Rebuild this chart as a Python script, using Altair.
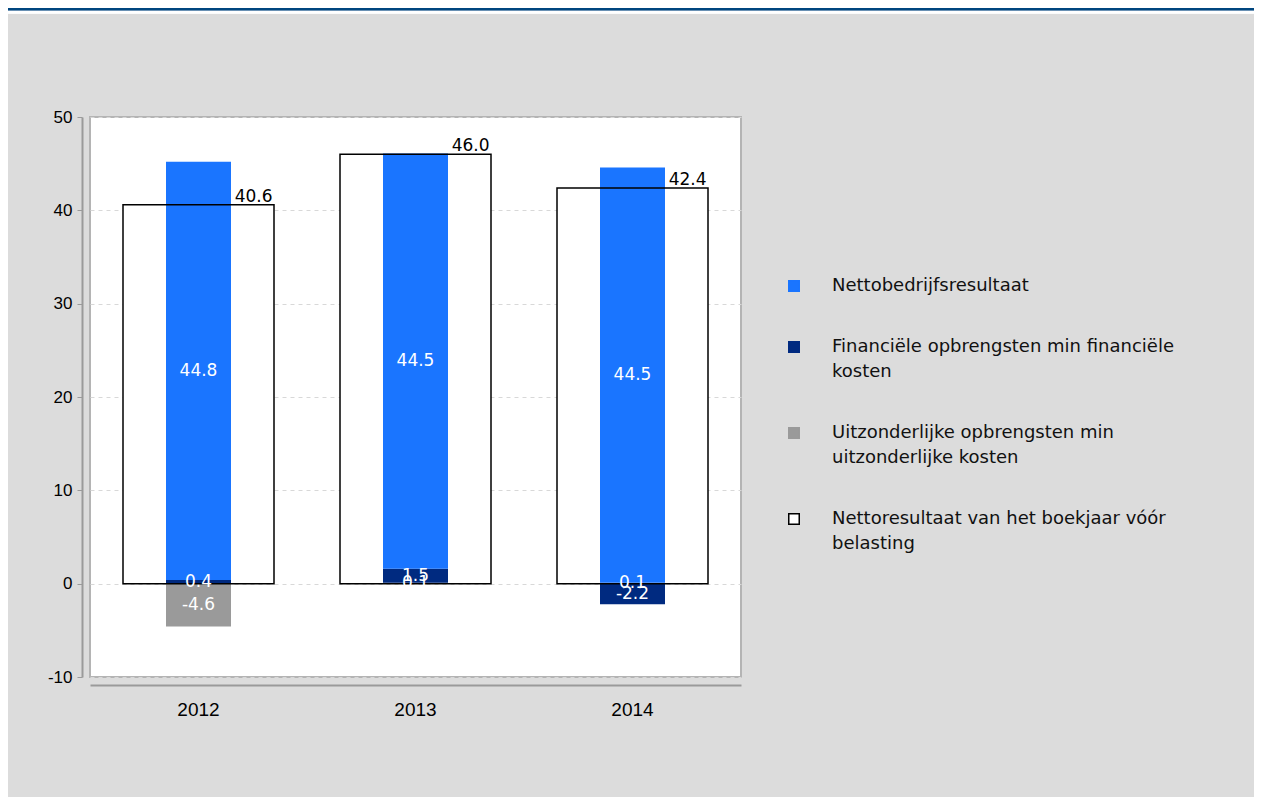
import altair as alt
import pandas as pd

years = ["2012", "2013", "2014"]
series = [
    "Nettobedrijfsresultaat",
    "Financiële opbrengsten min financiële kosten",
    "Uitzonderlijke opbrengsten min uitzonderlijke kosten",
    "Nettoresultaat van het boekjaar vóór belasting",
]
netto_bedrijf = [44.8, 44.5, 44.5]
financieel = [0.4, 1.5, -2.2]
uitzonderlijk = [-4.6, 0.1, 0.1]
netto_resultaat = [40.6, 46.0, 42.4]
fill_colors = ["#1a75ff", "#002a80", "#9a9a9a", "#ffffff"]
stroke_colors = ["#1a75ff", "#002a80", "#9a9a9a", "#000000"]

rows = []
for i, y in enumerate(years):
    rows.append({"year": y, "series": series[2], "value": uitzonderlijk[i], "order": 0})
    rows.append({"year": y, "series": series[1], "value": financieel[i], "order": 1})
    rows.append({"year": y, "series": series[0], "value": netto_bedrijf[i], "order": 2})
seg = pd.DataFrame(rows)
tot = pd.DataFrame({"year": years, "series": series[3], "value": netto_resultaat})

label_expr = ("datum.label == '%s' ? ['Financiële opbrengsten min financiële', 'kosten'] : "
              "datum.label == '%s' ? ['Uitzonderlijke opbrengsten min', 'uitzonderlijke kosten'] : "
              "datum.label == '%s' ? ['Nettoresultaat van het boekjaar vóór', 'belasting'] : datum.label"
              ) % (series[1], series[2], series[3])

color_scale = alt.Scale(domain=series, range=fill_colors)
stroke_scale = alt.Scale(domain=series, range=stroke_colors)
legend = alt.Legend(
    title=None, orient="none", legendX=695, legendY=160,
    symbolType="square", symbolSize=110, symbolStrokeWidth=1.5,
    labelFont="DejaVu Sans", labelFontSize=18, labelColor="#111111",
    labelOffset=29, labelLimit=500, rowPadding=43,
    labelExpr=label_expr,
)

x_enc = alt.X("year:N", sort=years, title=None,
              scale=alt.Scale(paddingInner=0, paddingOuter=0),
              axis=alt.Axis(labelAngle=0, ticks=False, labelPadding=15, offset=8,
                            domainColor="#9a9a9a", domainWidth=2,
                            labelFont="Liberation Sans", labelFontSize=19, labelColor="#000000"))
y_scale = alt.Scale(domain=[-10, 50], nice=False)
y_axis = alt.Axis(values=[-10, 0, 10, 20, 30, 40, 50], offset=8, title=None,
                  labelExpr="datum.value < 0 ? '-' + abs(datum.value) : datum.label",
                  domainColor="#9a9a9a", domainWidth=2, tickColor="#9a9a9a", tickSize=5,
                  labelPadding=5, labelFont="Liberation Sans", labelFontSize=17, labelColor="#000000",
                  grid=True, gridColor="#d8d8d8", gridDash=[4, 4], gridWidth=1)

base_tot = alt.Chart(tot).transform_calculate(
    lbl="replace(format(datum.value, '.1f'), '\u2212', '-')")
outline_fill = base_tot.mark_bar(size=151, strokeWidth=0).encode(
    x=x_enc,
    y=alt.Y("value:Q", scale=y_scale, axis=y_axis),
    color=alt.Color("series:N", scale=color_scale, legend=legend),
    stroke=alt.Stroke("series:N", scale=stroke_scale, legend=legend),
)

stack = alt.Chart(seg).transform_stack(
    stack="value", groupby=["year"], as_=["y0", "y1"],
    sort=[alt.SortField("order", order="ascending")], offset="zero"
).transform_calculate(
    mid="(datum.y0 + datum.y1) / 2",
    lbl="replace(format(datum.value, '.1f'), '\u2212', '-')",
)

bars = stack.mark_bar(size=65, strokeWidth=0).encode(
    x=alt.X("year:N", sort=years),
    y=alt.Y("y0:Q", scale=y_scale),
    y2="y1:Q",
    color=alt.Color("series:N", scale=color_scale, legend=legend),
    stroke=alt.Stroke("series:N", scale=stroke_scale, legend=legend),
)
seg_text = stack.mark_text(color="#ffffff", font="DejaVu Sans", fontSize=17, baseline="middle").encode(
    x=alt.X("year:N", sort=years),
    y=alt.Y("mid:Q", scale=y_scale),
    text="lbl:N",
)

outline_stroke = base_tot.mark_bar(size=151, fill="transparent", stroke="#000000", strokeWidth=1.5).encode(
    x=alt.X("year:N", sort=years),
    y=alt.Y("value:Q", scale=y_scale),
)
tot_text = base_tot.mark_text(color="#000000", font="DejaVu Sans", fontSize=17,
                              align="right", baseline="bottom", dx=74, dy=1).encode(
    x=alt.X("year:N", sort=years),
    y=alt.Y("value:Q", scale=y_scale),
    text="lbl:N",
)

top_white = alt.Chart(tot).mark_rule(color="#ffffff", strokeWidth=3).encode(
    x=alt.value(-90), x2=alt.value(1170), y=alt.value(-105))
top_blue = alt.Chart(tot).mark_rule(color="#00467f", strokeWidth=2.5).encode(
    x=alt.value(-90), x2=alt.value(1170), y=alt.value(-108))

chart = alt.layer(outline_fill, bars, outline_stroke, seg_text, tot_text, top_white, top_blue).properties(
    width=651, height=560,
    background="#dcdcdc",
    padding={"left": 82, "top": 109, "right": 513, "bottom": 120},
    autosize=alt.AutoSizeParams(type="none"),
).configure(
    style={"guide-label": {"lineHeight": 25}}
).configure_view(
    fill="#ffffff", stroke="#b4b4b4", strokeWidth=2
)

chart.save("out.html", embed_options={"renderer": "svg", "actions": False})
